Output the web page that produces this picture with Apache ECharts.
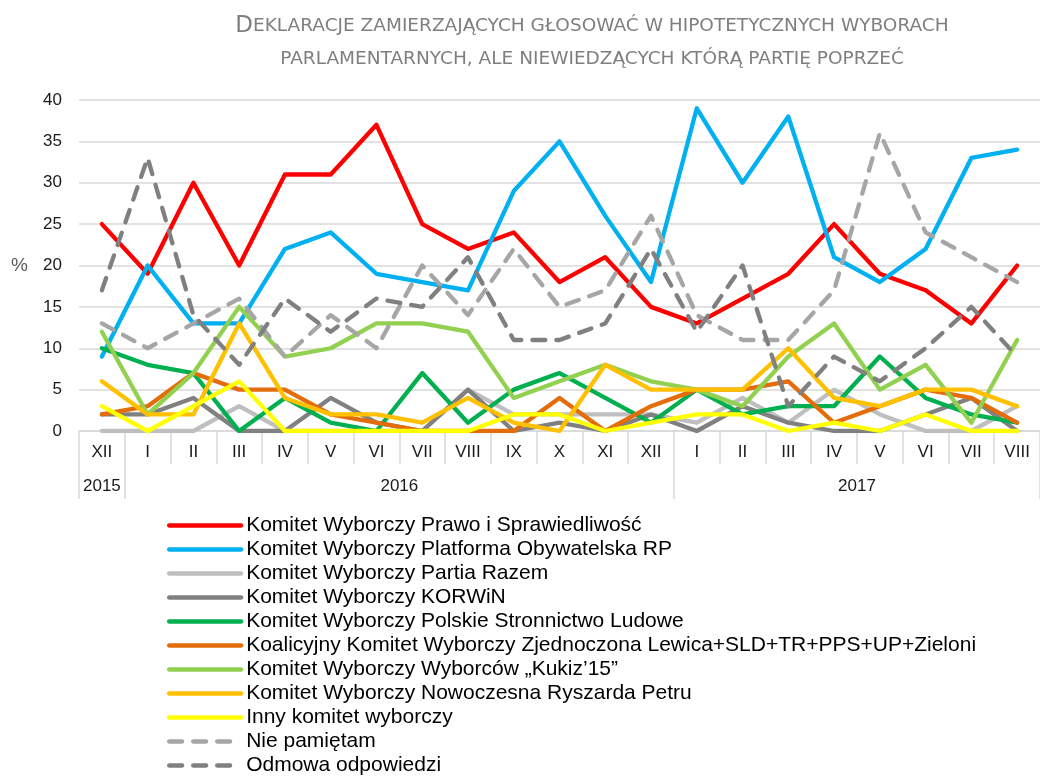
<!DOCTYPE html>
<html>
<head>
<meta charset="utf-8">
<script src="https://cdn.jsdelivr.net/npm/echarts@6/dist/echarts.min.js"></script>
<style>
  html, body { margin: 0; padding: 0; background: #fff; }
  #main { width: 1040px; height: 776px; }
</style>
</head>
<body>
<div id="main"></div>
<script>
// miesiące XII 2015 - VIII 2017
var months = ['XII', 'I', 'II', 'III', 'IV', 'V', 'VI', 'VII', 'VIII', 'IX', 'X', 'XI', 'XII',
              'I', 'II', 'III', 'IV', 'V', 'VI', 'VII', 'VIII'];
var years = ['2015', '2016', '2017'];
var yearCenters = [0.5, 7, 17];      // środek grupy miesięcy danego roku
var yearBounds = [0, 1, 13, 21];     // granice lat

var seriesNames = [
  'Komitet Wyborczy Prawo i Sprawiedliwość',
  'Komitet Wyborczy Platforma Obywatelska RP',
  'Komitet Wyborczy Partia Razem',
  'Komitet Wyborczy KORWiN',
  'Komitet Wyborczy Polskie Stronnictwo Ludowe',
  'Koalicyjny Komitet Wyborczy Zjednoczona Lewica+SLD+TR+PPS+UP+Zieloni',
  'Komitet Wyborczy Wyborców „Kukiz’15”',
  'Komitet Wyborczy Nowoczesna Ryszarda Petru',
  'Inny komitet wyborczy',
  'Nie pamiętam',
  'Odmowa odpowiedzi'
];

var pis       = [25, 19, 30, 20, 31, 31, 37, 25, 22, 24, 18, 21, 15, 13, 16, 19, 25, 19, 17, 13, 20];
var po        = [9, 20, 13, 13, 22, 24, 19, 18, 17, 29, 35, 26, 18, 39, 30, 38, 21, 18, 22, 33, 34];
var razem     = [0, 0, 0, 3, 0, 0, 0, 0, 5, 2, 2, 2, 2, 1, 4, 1, 5, 2, 0, 0, 3];
var korwin    = [2, 2, 4, 0, 0, 4, 1, 0, 5, 0, 1, 0, 2, 0, 3, 1, 0, 0, 2, 4, 0];
var psl       = [10, 8, 7, 0, 4, 1, 0, 7, 1, 5, 7, 4, 1, 5, 2, 3, 3, 9, 4, 2, 1];
var zl        = [2, 3, 7, 5, 5, 2, 1, 0, 0, 0, 4, 0, 3, 5, 5, 6, 1, 3, 5, 4, 1];
var kukiz     = [12, 2, 7, 15, 9, 10, 13, 13, 12, 4, 6, 8, 6, 5, 3, 9, 13, 5, 8, 1, 11];
var nowoczesna= [6, 2, 2, 13, 4, 2, 2, 1, 4, 1, 0, 8, 5, 5, 5, 10, 4, 3, 5, 5, 3];
var inny      = [3, 0, 3, 6, 0, 0, 0, 0, 0, 2, 2, 0, 1, 2, 2, 0, 1, 0, 2, 0, 0];
var niePamietam = [13, 10, 13, 16, 9, 14, 10, 20, 14, 22, 15, 17, 26, 14, 11, 11, 17, 36, 24, 21, 18];
var odmowa    = [17, 33, 14, 8, 16, 12, 16, 15, 21, 11, 11, 13, 22, 12, 20, 3, 9, 6, 10, 15, 9];

var allData = [pis, po, razem, korwin, psl, zl, kukiz, nowoczesna, inny, niePamietam, odmowa];
var colors = ['#ff0000', '#00b0f0', '#bfbfbf', '#808080', '#00b050', '#e46c0a',
              '#92d050', '#ffc000', '#ffff00', '#a6a6a6', '#808080'];

var FONT = 'Liberation Sans';
var GRID_COLOR = '#d9d9d9';

var series = [];
for (var i = 0; i < allData.length; i++) {
  var dashed = i >= 9;
  series.push({
    name: seriesNames[i],
    type: 'line',
    data: allData[i],
    symbol: 'none',
    lineStyle: {
      color: colors[i],
      width: 4.3,
      type: dashed ? [13, 11] : 'solid',
      cap: 'round',
      join: 'round'
    },
    itemStyle: { color: colors[i] },
    z: 2 + i
  });
}

var chart = echarts.init(document.getElementById('main'), null, { renderer: 'canvas' });

chart.setOption({
  animation: false,
  backgroundColor: '#fff',
  title: {
    text: '{a|D}{b|EKLARACJE ZAMIERZAJĄCYCH GŁOSOWAĆ W HIPOTETYCZNYCH WYBORACH}\n{b|PARLAMENTARNYCH, ALE NIEWIEDZĄCYCH KTÓRĄ PARTIĘ POPRZEĆ}',
    left: 587,
    top: 5,
    textAlign: 'center',
    textStyle: {
      fontFamily: 'DejaVu Sans',
      fontWeight: 'normal',
      color: '#7f7f7f',
      lineHeight: 33,
      rich: {
        a: { fontFamily: 'DejaVu Sans', fontWeight: 'normal', fontSize: 23, color: '#7f7f7f', lineHeight: 33 },
        b: { fontFamily: 'DejaVu Sans', fontWeight: 'normal', fontSize: 18.5, color: '#7f7f7f', lineHeight: 33 }
      }
    }
  },
  grid: {
    left: 79,
    right: -9,
    top: 100,
    bottom: 345,
    containLabel: false
  },
  legend: {
    orient: 'vertical',
    left: 167,
    top: 515,
    padding: 0,
    itemWidth: 72,
    itemHeight: 14,
    itemGap: 3,
    data: seriesNames,
    itemStyle: { opacity: 0 },
    lineStyle: { width: 4.3, cap: 'round' },
    textStyle: { fontFamily: FONT, fontSize: 21, color: '#000', lineHeight: 21 }
  },
  xAxis: [{
    type: 'category',
    data: months,
    boundaryGap: true,
    axisLine: { lineStyle: { color: GRID_COLOR, width: 1.5 } },
    axisTick: { show: true, alignWithLabel: false, length: 33, lineStyle: { color: GRID_COLOR, width: 1.5 } },
    axisLabel: { interval: 0, margin: 13, fontFamily: FONT, fontSize: 17, color: '#1a1a1a' },
    splitLine: { show: false }
  }, {
    type: 'value',
    position: 'bottom',
    min: 0,
    max: 21,
    axisLine: { show: false },
    splitLine: { show: false },
    axisTick: {
      show: true,
      customValues: yearBounds,
      length: 68,
      lineStyle: { color: GRID_COLOR, width: 1.5 }
    },
    axisLabel: {
      customValues: yearCenters,
      margin: 47,
      fontFamily: FONT,
      fontSize: 17,
      color: '#1a1a1a',
      formatter: function (v) {
        var k = yearCenters.indexOf(v);
        return k >= 0 ? years[k] : '';
      }
    }
  }],
  yAxis: {
    type: 'value',
    min: 0,
    max: 40,
    interval: 5,
    name: '%',
    nameLocation: 'middle',
    nameRotate: 0,
    nameGap: 51,
    nameTextStyle: { fontFamily: FONT, fontSize: 19, color: '#595959' },
    axisLine: { show: false },
    axisTick: { show: false },
    axisLabel: { margin: 17, fontFamily: FONT, fontSize: 17, color: '#1a1a1a' },
    splitLine: { lineStyle: { color: GRID_COLOR, width: 1.5 } }
  },
  series: series
});
</script>
</body>
</html>
